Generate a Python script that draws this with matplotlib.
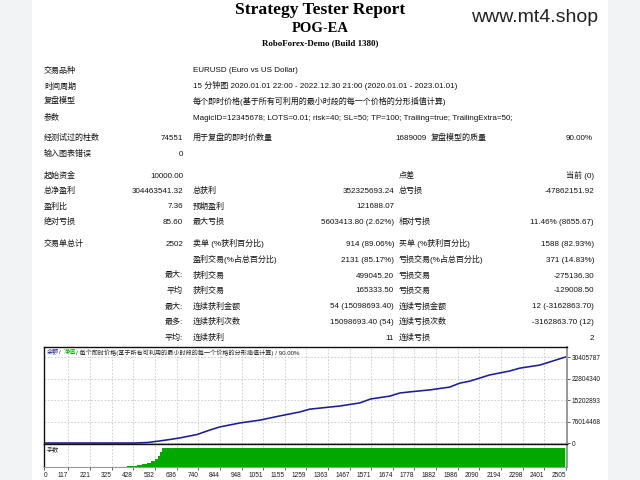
import matplotlib.pyplot as plt
from matplotlib.patches import Rectangle

plt.rcParams['font.family'] = ['Liberation Sans', 'Noto Sans CJK SC', 'DejaVu Sans']

# equity curve (millions)
trade_no = [0, 436, 500, 542, 600, 652, 734, 796, 844, 940, 1036, 1132, 1228, 1276,
            1420, 1516, 1568, 1659, 1707, 1755, 1851, 1947, 1995, 2043, 2139, 2235,
            2283, 2379, 2427, 2502]
balance_m = [0.01, 0.01, 2, 6, 12, 18, 30, 46, 57, 71, 81, 96, 110, 120,
             131, 142, 156, 166, 177, 181, 188, 198, 212, 219, 241, 255,
             265, 276, 287, 304.47]

# lot size panel
lot_trade = [0, 374, 400, 446, 470, 494, 515, 532, 545, 555, 566, 2502]
lots = [0.01, 0.5, 2, 4, 7, 10, 15, 22, 30, 40, 50, 50]

x_ticks = [0, 117, 221, 325, 428, 532, 636, 740, 844, 948, 1051, 1155, 1259, 1363,
           1467, 1571, 1674, 1778, 1882, 1986, 2090, 2194, 2298, 2401, 2505]
y_ticks = [0, 76014468, 152028936, 228043404, 304057872]
y_tick_labels = ['0', '76014468', '15202893', '22804340', '30405787']

top_rows = [
    ('交易品种', 'EURUSD (Euro vs US Dollar)'),
    ('时间周期', '15 分钟图 2020.01.01 22:00 - 2022.12.30 21:00 (2020.01.01 - 2023.01.01)'),
    ('复盘模型', '每个即时价格(基于所有可利用的最小时段的每一个价格的分形插值计算)'),
    ('参数', 'MagicID=12345678; LOTS=0.01; risk=40; SL=50; TP=100; Trailing=true; TrailingExtra=50;'),
]

# label, value, label, value, label, value
stat_rows = [
    ('起始资金', '10000.00', '', '', '点差', '当前 (0)'),
    ('总净盈利', '304463541.32', '总获利', '352325693.24', '总亏损', '-47862151.92'),
    ('盈利比', '7.36', '预期盈利', '121688.07', '', ''),
    ('绝对亏损', '85.60', '最大亏损', '5603413.80 (2.62%)', '相对亏损', '11.46% (8655.67)'),
    ('交易单总计', '2502', '卖单 (%获利百分比)', '914 (89.06%)', '买单 (%获利百分比)', '1588 (82.93%)'),
    ('', '', '盈利交易(%占总百分比)', '2131 (85.17%)', '亏损交易(%占总百分比)', '371 (14.83%)'),
    ('', '最大:', '获利交易', '499045.20', '亏损交易', '-275136.30'),
    ('', '平均', '获利交易', '165333.50', '亏损交易', '-129008.50'),
    ('', '最大:', '连续获利金额', '54 (15098693.40)', '连续亏损金额', '12 (-3162863.70)'),
    ('', '最多:', '连续获利次数', '15098693.40 (54)', '连续亏损次数', '-3162863.70 (12)'),
    ('', '平均:', '连续获利', '11', '连续亏损', '2'),
]
stat_y = [175, 190, 206, 221, 243, 259, 275, 290, 306, 321, 337]

W, H = 640, 480
fig = plt.figure(figsize=(6.4, 4.8), dpi=100, facecolor='#f2f3f5')
fig.patches.append(Rectangle((32 / W, 0), 576 / W, 1, transform=fig.transFigure,
                             facecolor='white', edgecolor='none', zorder=-5))


def put(x, y, s, **kw):
    # y is the visual middle of the row; draw on a shared baseline
    kw.setdefault('fontsize', 5.8)
    kw.setdefault('color', '#111111')
    fig.text(x / W, 1 - (y + 2.5) / H, s, va='baseline', **kw)


serif = ['Liberation Serif', 'DejaVu Serif']
fig.text(0.5, 1 - 10.5 / H, 'Strategy Tester Report', family=serif, fontweight='bold',
         fontsize=12.6, ha='center', va='center', color='black')
fig.text(0.5, 1 - 28 / H, 'POG-EA', family=serif, fontweight='bold', fontsize=10.5,
         ha='center', va='center', color='black')
fig.text(0.5, 1 - 43 / H, 'RoboForex-Demo (Build 1380)', family=serif, fontweight='bold',
         fontsize=6.4, ha='center', va='center', color='black')
fig.text(471 / W, 1 - 18 / H, 'www.mt4.shop', fontsize=14, color='#222222', va='center')

for (lab, val), y in zip(top_rows, [70, 86, 101, 117]):
    put(44, y, lab)
    put(193, y, val)

put(44, 137, '经测试过的柱数')
put(183, 137, '74551', ha='right')
put(193, 137, '用于复盘的即时价数量')
put(427, 137, '1689009', ha='right')
put(431, 137, '复盘模型的质量')
put(593, 137, '90.00%', ha='right')
put(44, 153, '输入图表错误')
put(183, 153, '0', ha='right')

for row, y in zip(stat_rows, stat_y):
    put(44, y, row[0])
    put(183, y, row[1], ha='right')
    put(193, y, row[2])
    put(394, y, row[3], ha='right')
    put(399, y, row[4])
    put(594, y, row[5], ha='right')

# balance graph
ax = fig.add_axes([44 / W, 1 - 444 / H, 523 / W, 97 / H])
ax.plot(trade_no, [v * 1e6 for v in balance_m], color='#1c1c96', lw=1.15)
ax.set_xlim(0, 2510)
ax.set_ylim(-3.5e6, 340e6)
ax.set_xticks(x_ticks[1:])
ax.set_xticklabels([])
ax.tick_params(axis='x', length=0)
ax.yaxis.tick_right()
ax.set_yticks(y_ticks)
ax.set_yticklabels(y_tick_labels, fontsize=4.7, color='#1a1a1a')
ax.tick_params(axis='y', length=2, width=0.6, pad=1.5, colors='#444444')
ax.tick_params(axis='y', labelcolor='#1a1a1a')
ax.grid(True, color='#c8c8c8', ls=(0, (2, 2)), lw=0.6)
for side in ['top', 'left', 'bottom']:
    ax.spines[side].set_color('#111111')
    ax.spines[side].set_linewidth(1.0)
ax.spines['right'].set_color('#999999')
ax.spines['right'].set_linewidth(1.4)

ax.text(0.006, 0.945, '余额', transform=ax.transAxes, fontsize=4.4,
        color='#1c1c96', va='center')
ax.text(0.029, 0.945, '/', transform=ax.transAxes, fontsize=4.4,
        color='#222222', va='center')
ax.text(0.038, 0.945, '净值', transform=ax.transAxes, fontsize=4.4,
        color='#00aa00', va='center')
ax.text(0.061, 0.945, '/ 每个即时价格(基于所有可利用的最小时段的每一个价格的分形插值计算) / 90.00%',
        transform=ax.transAxes, fontsize=4.4, color='#222222', va='center')

# lots panel
ax2 = fig.add_axes([44 / W, 1 - 467 / H, 523 / W, 23 / H])
ax2.fill_between(lot_trade, lots, step='post', color='#00a800', lw=0)
ax2.set_xlim(0, 2510)
ax2.set_ylim(0, 50 * 23 / 19)
ax2.set_yticks([])
ax2.set_xticks(x_ticks)
labels = ax2.set_xticklabels([str(t) for t in x_ticks], fontsize=4.7, color='#1a1a1a')
for i, lab in enumerate(labels):
    lab.set_ha('left' if i == 0 else 'right')
ax2.tick_params(axis='x', length=2, width=0.6, pad=1.5, colors='#444444')
ax2.tick_params(axis='x', labelcolor='#1a1a1a')
ax2.grid(True, axis='x', color='#c8c8c8', ls=(0, (2, 2)), lw=0.6)
ax2.set_axisbelow(True)
for side in ['top', 'left']:
    ax2.spines[side].set_color('#111111')
    ax2.spines[side].set_linewidth(1.0)
ax2.spines['bottom'].set_color('#999999')
ax2.spines['right'].set_color('#999999')
ax2.spines['right'].set_linewidth(1.4)
ax2.text(0.006, 0.75, '手数', transform=ax2.transAxes, fontsize=4.4,
         color='#222222', va='center')

fig.savefig('out.png', dpi=100, facecolor=fig.get_facecolor())
